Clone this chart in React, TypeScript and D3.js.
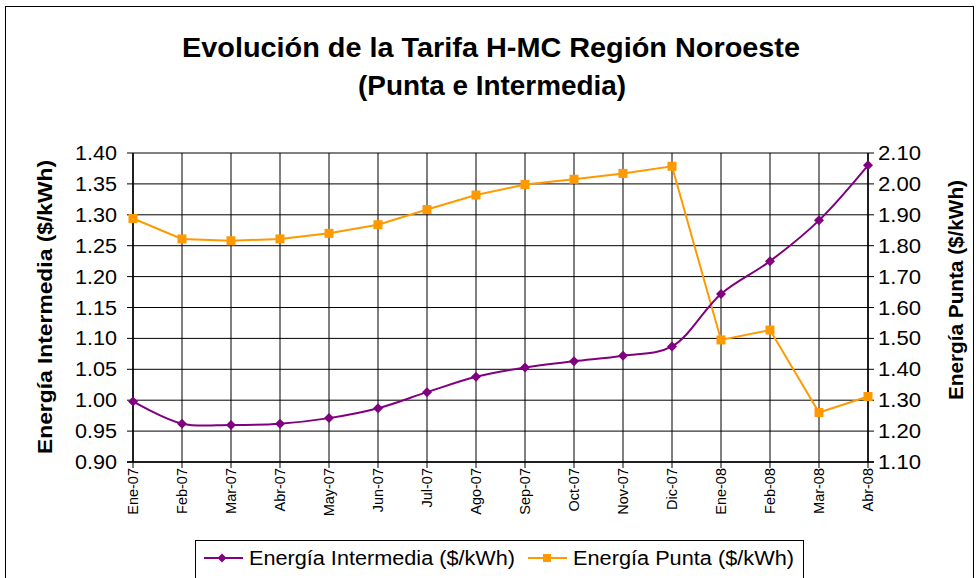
import React from "react";
import * as d3 from "d3";

const categories = ["Ene-07","Feb-07","Mar-07","Abr-07","May-07","Jun-07","Jul-07","Ago-07","Sep-07","Oct-07","Nov-07","Dic-07","Ene-08","Feb-08","Mar-08","Abr-08"];
const intermedia = [0.998,0.962,0.960,0.962,0.971,0.987,1.013,1.038,1.053,1.063,1.072,1.087,1.172,1.225,1.291,1.380];
const punta = [1.888,1.822,1.816,1.822,1.840,1.868,1.917,1.964,1.998,2.015,2.034,2.057,1.495,1.527,1.260,1.312];
const leftTicks = [0.90,0.95,1.00,1.05,1.10,1.15,1.20,1.25,1.30,1.35,1.40];
const rightTicks = [1.10,1.20,1.30,1.40,1.50,1.60,1.70,1.80,1.90,2.00,2.10];

const PURPLE = "#800080";
const ORANGE = "#FF9900";
const FONT = "Liberation Sans, Arial, sans-serif";

export default function App() {
  const W = 978, H = 578;
  const x0 = 133, x1 = 868, yT = 153, yB = 462;
  const x = d3.scalePoint<string>().domain(categories).range([x0, x1]);
  const yL = d3.scaleLinear().domain([0.9, 1.4]).range([yB, yT]);
  const yR = d3.scaleLinear().domain([1.1, 2.1]).range([yB, yT]);

  const lineI = d3.line<number>()
    .x((_, i) => x(categories[i])!)
    .y(d => yL(d))
    .curve(d3.curveCatmullRom.alpha(0.5));
  const lineP = d3.line<number>()
    .x((_, i) => x(categories[i])!)
    .y(d => yR(d));

  const diamond = (cx: number, cy: number, r = 5) =>
    `M${cx},${cy - r}L${cx + r},${cy}L${cx},${cy + r}L${cx - r},${cy}Z`;

  return (
    <svg width={W} height={H} style={{ position: "absolute", left: 0, top: 0, background: "#fff" }}>
      <rect x={5.5} y={6.5} width={968} height={580} fill="#fff" stroke="#000" strokeWidth={1} />
      <text x={491} y={57} textAnchor="middle" fontFamily={FONT} fontWeight="bold" fontSize={28}
        textLength={618} lengthAdjust="spacingAndGlyphs">
        Evolución de la Tarifa H-MC Región Noroeste
      </text>
      <text x={492} y={95} textAnchor="middle" fontFamily={FONT} fontWeight="bold" fontSize={28}
        textLength={268} lengthAdjust="spacingAndGlyphs">
        (Punta e Intermedia)
      </text>

      {/* horizontal gridlines */}
      {leftTicks.map(t => (
        <line key={"h" + t} x1={x0} x2={x1} y1={yL(t)} y2={yL(t)} stroke="#000" strokeWidth={1} />
      ))}
      {/* vertical gridlines */}
      {categories.map(c => (
        <line key={"v" + c} x1={x(c)} x2={x(c)} y1={yT} y2={yB + 6} stroke="#000" strokeWidth={1} />
      ))}
      {/* left axis ticks + labels */}
      {leftTicks.map(t => (
        <g key={"lt" + t}>
          <line x1={x0 - 6} x2={x0} y1={yL(t)} y2={yL(t)} stroke="#000" />
          <text x={117} y={yL(t) + 7} textAnchor="end" fontFamily={FONT} fontSize={20}
            textLength={42} lengthAdjust="spacingAndGlyphs">{t.toFixed(2)}</text>
        </g>
      ))}
      {/* right axis ticks + labels */}
      {rightTicks.map(t => (
        <g key={"rt" + t}>
          <line x1={x1} x2={x1 + 6} y1={yR(t)} y2={yR(t)} stroke="#000" />
          <text x={878} y={yR(t) + 7} textAnchor="start" fontFamily={FONT} fontSize={20}
            textLength={43} lengthAdjust="spacingAndGlyphs">{t.toFixed(2)}</text>
        </g>
      ))}
      <line x1={x0} x2={x0} y1={yT} y2={yB} stroke="#000" strokeWidth={1.5} />
      <line x1={x1} x2={x1} y1={yT} y2={yB} stroke="#000" strokeWidth={1.5} />
      <line x1={x0 - 6} x2={x1 + 6} y1={yB} y2={yB} stroke="#000" strokeWidth={1.5} />

      {/* x labels */}
      {categories.map(c => (
        <text key={"xl" + c} transform={`translate(${(x(c) ?? 0) + 5},${468}) rotate(-90)`} textAnchor="end"
          fontFamily={FONT} fontSize={14.5}>{c}</text>
      ))}

      {/* axis titles */}
      <text transform={`translate(52,${307}) rotate(-90)`} textAnchor="middle" fontFamily={FONT}
        fontWeight="bold" fontSize={21} textLength={294} lengthAdjust="spacingAndGlyphs">Energía Intermedia ($/kWh)</text>
      <text transform={`translate(963,${290}) rotate(-90)`} textAnchor="middle" fontFamily={FONT}
        fontWeight="bold" fontSize={21} textLength={220} lengthAdjust="spacingAndGlyphs">Energía Punta ($/kWh)</text>

      {/* series */}
      <path d={lineP(punta) ?? ""} fill="none" stroke={ORANGE} strokeWidth={2} />
      {punta.map((v, i) => (
        <rect key={"p" + i} x={x(categories[i])! - 4.5} y={yR(v) - 4.5} width={9} height={9} fill={ORANGE} />
      ))}
      <path d={lineI(intermedia) ?? ""} fill="none" stroke={PURPLE} strokeWidth={2} />
      {intermedia.map((v, i) => (
        <path key={"i" + i} d={diamond(x(categories[i])!, yL(v))} fill={PURPLE} />
      ))}

      {/* legend */}
      <rect x={195.5} y={540.5} width={608} height={40} fill="#fff" stroke="#000" strokeWidth={1} />
      <line x1={204} x2={243} y1={558} y2={558} stroke={PURPLE} strokeWidth={2} />
      <path d={diamond(222, 558, 4.5)} fill={PURPLE} />
      <text x={249} y={565} fontFamily={FONT} fontSize={20} textLength={266} lengthAdjust="spacingAndGlyphs">Energía Intermedia ($/kWh)</text>
      <line x1={528} x2={567} y1={558} y2={558} stroke={ORANGE} strokeWidth={2} />
      <rect x={543} y={554} width={8} height={8} fill={ORANGE} />
      <text x={573} y={565} fontFamily={FONT} fontSize={20} textLength={221} lengthAdjust="spacingAndGlyphs">Energía Punta ($/kWh)</text>
    </svg>
  );
}
